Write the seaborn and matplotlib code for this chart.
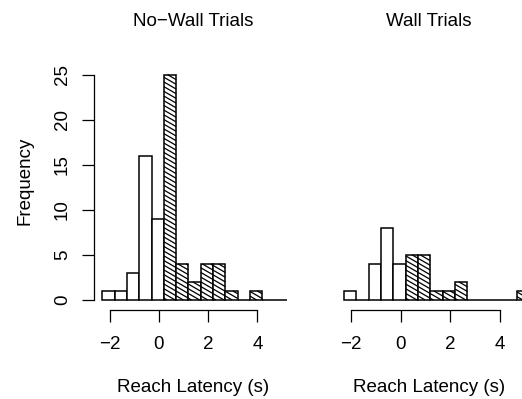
import numpy as np
import matplotlib
matplotlib.use("Agg")
import matplotlib.pyplot as plt
from matplotlib.collections import LineCollection
import seaborn as sns

# Histogram bins (seconds), width 0.5
bin_edges = [-2.3, -1.8, -1.3, -0.8, -0.3, 0.2, 0.7, 1.2, 1.7, 2.2, 2.7, 3.2, 3.7, 4.2, 4.7, 5.2]

# Counts per bin: first 5 bins are plain (white) bars, the rest hatched
nowall_counts = [1, 1, 3, 16, 9, 25, 4, 2, 4, 4, 1, 0, 1, 0, 0]
wall_counts = [1, 0, 4, 8, 4, 5, 5, 1, 1, 2, 0, 0, 0, 0, 1]
n_plain = 5

titles = ["No\u2212Wall Trials", "Wall Trials"]
x_label = "Reach Latency (s)"
y_label = "Frequency"
x_ticks = [-2, 0, 2, 4]
y_ticks = [0, 5, 10, 15, 20, 25]

sns.set_style("white")
plt.rcParams["font.family"] = ["Liberation Sans", "DejaVu Sans"]
plt.rcParams["text.color"] = "black"
plt.rcParams["axes.labelcolor"] = "black"
plt.rcParams["xtick.color"] = "black"
plt.rcParams["ytick.color"] = "black"

FS = 13.5
W, H = 522, 399
fig = plt.figure(figsize=(W / 100, H / 100), dpi=100)

# axes placed in pixels to copy the R layout
ax_left = fig.add_axes([94 / W, 94.5 / H, 197.8 / W, 247.8 / H])
ax_right = fig.add_axes([335.5 / W, 94.5 / H, 186.5 / W, 247.8 / H])


def hatch_bars(ax, patches, spacing_px=4.7, angle=30):
    # shallow "\" shading lines like R's density= hatching,
    # clipped by hand to each bar rectangle (data coordinates)
    (px0, py0), (px1, py1) = ax.transData.transform([(0, 0), (1, 1)])
    sx, sy = px1 - px0, py1 - py0          # pixels per data unit
    m = np.tan(np.radians(angle)) * sx / sy  # slope in data units
    step = spacing_px / sy
    segs = []
    for p in patches:
        x0, x1 = p.get_x(), p.get_x() + p.get_width()
        h = p.get_height()
        if h <= 0:
            continue
        # line: y = b - m * x
        b_start = np.floor((m * x0) / step) * step
        for b in np.arange(b_start, h + m * x1 + step, step):
            xa = max(x0, (b - h) / m)
            xb = min(x1, b / m)
            if xb - xa > 1e-9:
                segs.append([(xa, b - m * xa), (xb, b - m * xb)])
    ax.add_collection(LineCollection(segs, colors="black", linewidths=0.9, zorder=2.5),
                      autolim=False)


for ax, counts, title in [(ax_left, nowall_counts, titles[0]), (ax_right, wall_counts, titles[1])]:
    centers = [(a + b) / 2 for a, b in zip(bin_edges[:-1], bin_edges[1:])]
    sns.histplot(x=centers[:n_plain], weights=counts[:n_plain], bins=bin_edges[:n_plain + 1],
                 ax=ax, color="white", edgecolor="black", linewidth=1.1, alpha=1)
    sns.histplot(x=centers[n_plain:], weights=counts[n_plain:], bins=bin_edges[n_plain:],
                 ax=ax, color="white", edgecolor="black", linewidth=1.1, alpha=1)

    ax.set_ylim(-0.5, 27)
    ax.set_title(title, fontsize=FS, pad=22)
    ax.set_xticks(x_ticks)
    ax.spines["bottom"].set_bounds(x_ticks[0], x_ticks[-1])
    ax.spines["bottom"].set_position(("outward", 4))
    ax.spines["top"].set_visible(False)
    ax.spines["right"].set_visible(False)
    ax.tick_params(axis="both", direction="out", length=8.5, width=0.9, pad=10,
                   labelsize=FS, bottom=True, left=True)
    ax.set_xlabel(x_label, fontsize=FS, labelpad=19)
    ax.set_ylabel("")

ax_left.tick_params(axis="y", pad=8)
ax_left.set_xlim(-2.64, 5.4)
ax_right.set_xlim(-2.64, 4.91)

ax_left.set_yticks(y_ticks)
ax_left.spines["left"].set_bounds(y_ticks[0], y_ticks[-1])
for lab in ax_left.get_yticklabels():
    lab.set_rotation(90)
    lab.set_va("center")
ax_left.set_ylabel(y_label, fontsize=FS, labelpad=15)

ax_right.spines["left"].set_visible(False)
ax_right.set_yticks([])

for ax in (ax_left, ax_right):
    for s in ax.spines.values():
        s.set_linewidth(0.9)
        s.set_color("black")

# hatch after limits are fixed so the pixel scale is final
for ax in (ax_left, ax_right):
    hatch_bars(ax, ax.patches[n_plain:])

fig.savefig("out.png", dpi=100)
